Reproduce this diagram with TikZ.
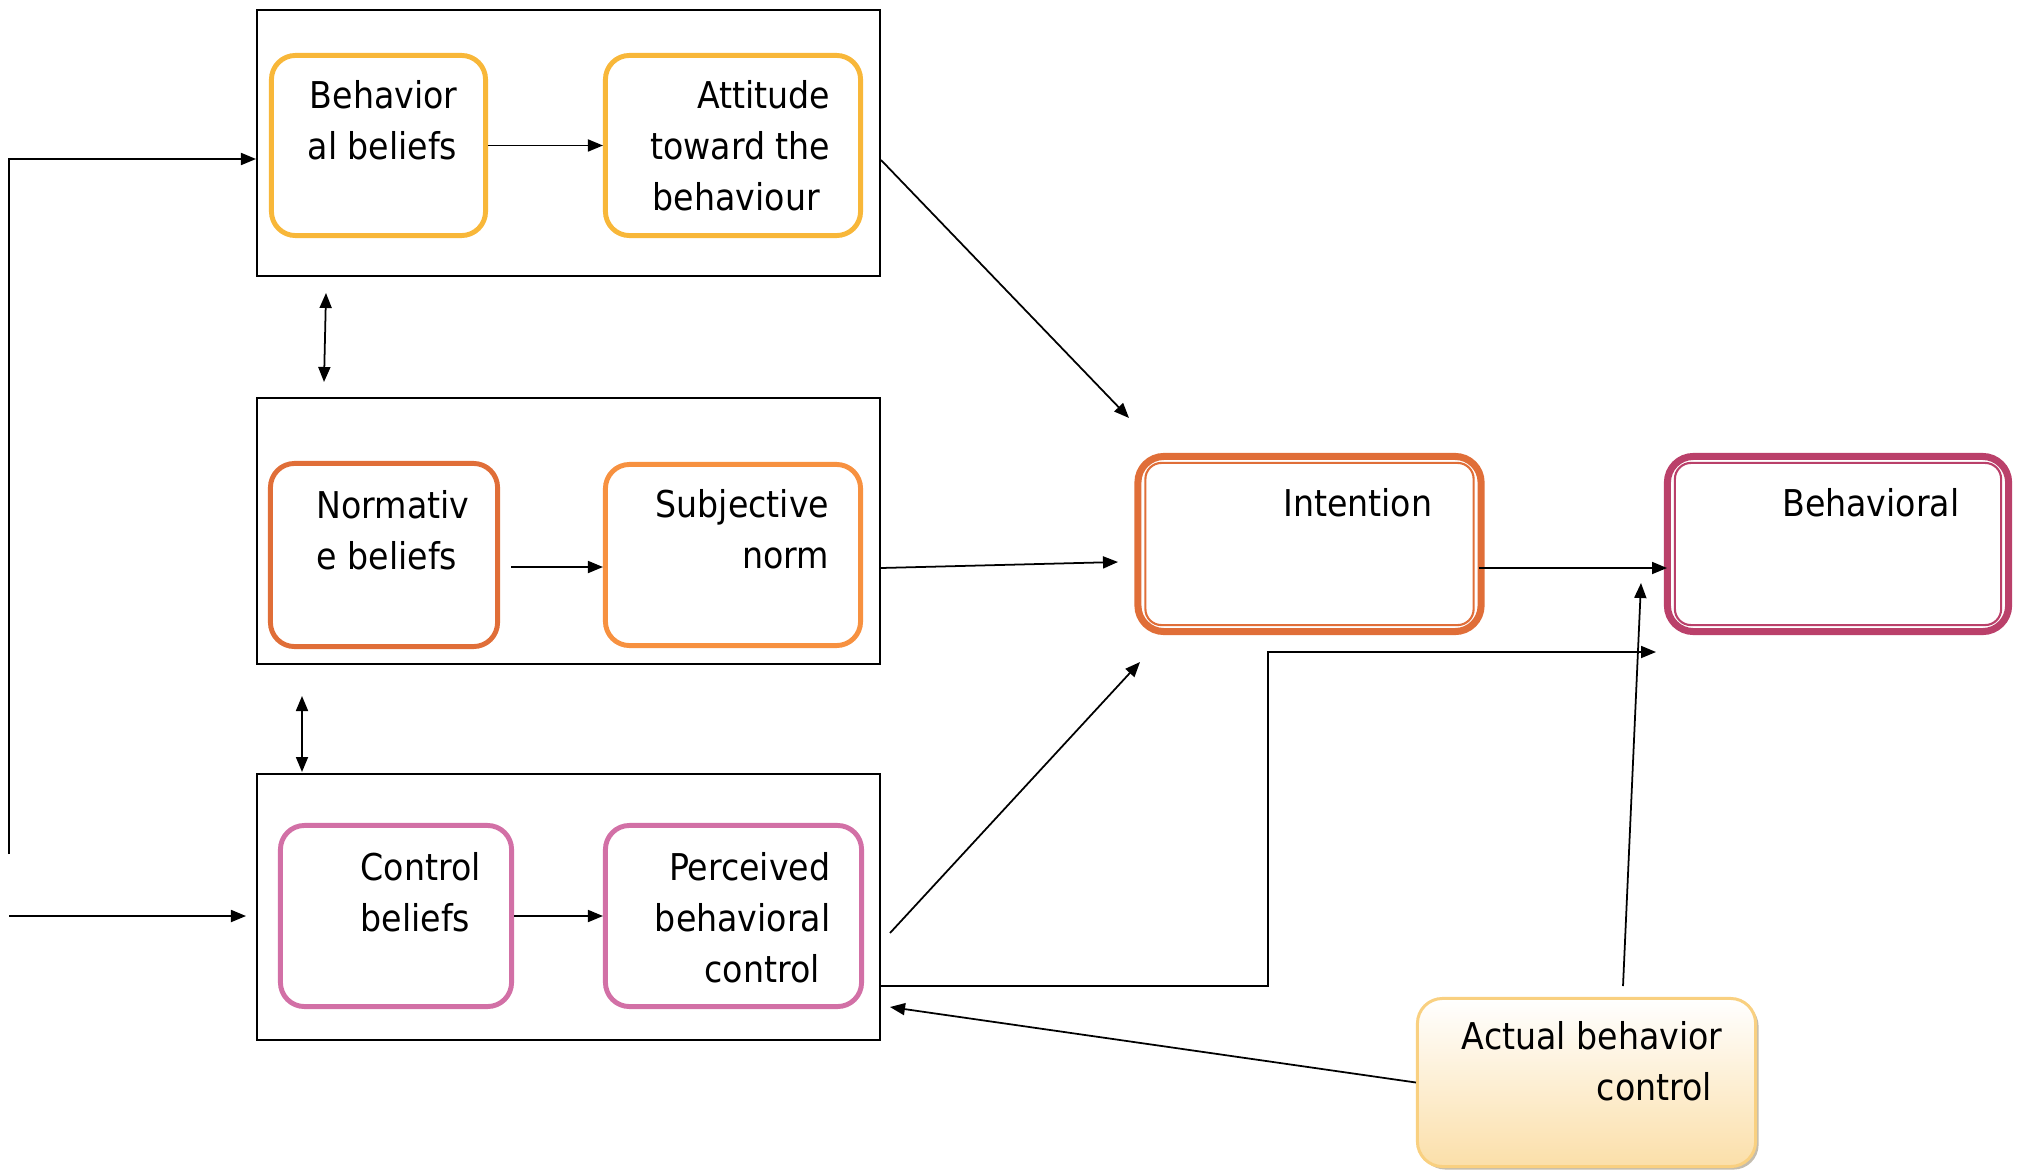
\documentclass[tikz,border=0pt]{standalone}
\usepackage{fontspec}
\setmainfont{DejaVu Sans Condensed}
\usetikzlibrary{arrows.meta,shadows}
\definecolor{belyellow}{HTML}{F8B739}
\definecolor{normorange}{HTML}{E06E38}
\definecolor{subjorange}{HTML}{F79140}
\definecolor{ctrlpink}{HTML}{D270A6}
\definecolor{behcrimson}{HTML}{BA406A}
\definecolor{actborder}{HTML}{F9D080}
\definecolor{actfill}{HTML}{FBDFA9}
\begin{document}
\begin{tikzpicture}[x=0.01cm,y=-0.01cm,
  grp/.style={draw,line width=0.6pt,inner sep=0pt,minimum width=6.23cm,minimum height=2.66cm},
  bel/.style={draw=#1,line width=1.4pt,inner sep=0pt,rounded corners=0.24cm},
  outc/.style={draw=#1,line width=2pt,inner sep=0pt,rounded corners=0.26cm,minimum width=3.43cm,minimum height=1.75cm},
  lbl/.style={inner sep=0pt,font=\fontsize{10.5}{14.4}\selectfont},
  arr/.style={line width=0.5pt,-{Triangle[length=0.15cm,width=0.12cm]}},
  darr/.style={line width=0.5pt,{Triangle[length=0.15cm,width=0.12cm]}-{Triangle[length=0.15cm,width=0.12cm]}}]
  \useasboundingbox (0,0) rectangle (2028,1173);
  % three groups
  \node[grp] (g1) at (568.5,143) {};
  \node[grp] (g2) at (568.5,531) {};
  \node[grp] (g3) at (568.5,907) {};
  % belief boxes
  \node[bel=belyellow,minimum width=2.14cm,minimum height=1.80cm] (bb) at (378.5,145.5) {};
  \node[bel=belyellow,minimum width=2.55cm,minimum height=1.80cm] (att) at (733,145.5) {};
  \node[bel=normorange,minimum width=2.27cm,minimum height=1.83cm] (nb) at (384,555) {};
  \node[bel=subjorange,minimum width=2.55cm,minimum height=1.81cm] (sn) at (733,555) {};
  \node[bel=ctrlpink,minimum width=2.31cm,minimum height=1.81cm] (cb) at (396,916) {};
  \node[bel=ctrlpink,minimum width=2.56cm,minimum height=1.81cm] (pbc) at (733.5,916) {};
  \node[lbl,anchor=north east,align=right] (tbb) at (458,80) {Behavior\\al beliefs};
  \node[lbl,anchor=north east,align=right] (tatt) at (831,80) {Attitude\\toward the\\behaviour\hspace*{3pt}};
  \node[lbl,anchor=north west,align=left] (tnb) at (316,490) {Normativ\\e beliefs};
  \node[lbl,anchor=north east,align=right] (tsn) at (830,489) {Subjective\\norm};
  \node[lbl,anchor=north west,align=left] (tcb) at (360,852) {Control\\beliefs};
  \node[lbl,anchor=north east,align=right] (tpbc) at (831,852) {Perceived\\behavioral\\control\hspace*{3pt}};
  % intention and behavior
  \node[outc=normorange] (int) at (1309.5,544) {};
  \draw[normorange,line width=0.6pt,rounded corners=0.16cm] ([shift={(11,10)}]int.north west) rectangle ([shift={(-11,-10)}]int.south east);
  \node[outc=behcrimson,minimum width=3.41cm] (beh) at (1838,544) {};
  \draw[behcrimson,line width=0.6pt,rounded corners=0.16cm] ([shift={(11,10)}]beh.north west) rectangle ([shift={(-11,-10)}]beh.south east);
  \node[lbl,anchor=north east] (tint) at (1433,488) {Intention};
  \node[lbl,anchor=north east] (tbeh) at (1960,488) {Behavioral};
  \node[draw=actborder,line width=0.85pt,inner sep=0pt,rounded corners=0.25cm,top color=white,bottom color=actfill,
        drop shadow={shadow xshift=0.03cm,shadow yshift=-0.03cm,fill=black!45!actfill},
        minimum width=3.38cm,minimum height=1.68cm] (act) at (1586.5,1082.5) {};
  \node[lbl,anchor=north east,align=right] (tact) at (1723,1021) {Actual behavior\\control\hspace*{3pt}};
  % free ends
  \coordinate (lt) at (9,854);
  \coordinate (in1) at (256,159);
  \coordinate (lb) at (9,916);
  \coordinate (in3) at (246,916);
  \coordinate (d1a) at (326,293);
  \coordinate (d1b) at (324,382);
  \coordinate (d2a) at (302,696);
  \coordinate (d2b) at (302,772);
  \coordinate (nbo) at (511,567);
  \coordinate (g1o) at (881,160);
  \coordinate (i1) at (1129,418);
  \coordinate (g2o) at (881,568);
  \coordinate (i2) at (1118,562);
  \coordinate (g3o) at (890,933);
  \coordinate (i3) at (1140,662);
  \coordinate (g3b) at (881,986);
  \coordinate (elb) at (1268,652);
  \coordinate (b3) at (1656,652);
  \coordinate (io) at (1479,568);
  \coordinate (bi) at (1667,568);
  \coordinate (ao) at (1623,986);
  \coordinate (bi2) at (1641,583);
  \coordinate (g3i) at (890,1007);
  % connectors
  \draw[arr] (lt) |- (in1);
  \draw[arr] (lb) -- (in3);
  \draw[darr] (d1a) -- (d1b);
  \draw[darr] (d2a) -- (d2b);
  \draw[arr] (bb.east) -- (att.west);
  \draw[arr] (nbo) -- (nbo -| sn.west);
  \draw[arr] (cb.east) -- (pbc.west);
  \draw[arr] (g1o) -- (i1);
  \draw[arr] (g2o) -- (i2);
  \draw[arr] (g3o) -- (i3);
  \draw[arr] (g3b) -| (elb) -- (b3);
  \draw[arr] (io) -- (bi);
  \draw[arr] (ao) -- (bi2);
  \draw[arr] (act.west) -- (g3i);
\end{tikzpicture}
\end{document}
